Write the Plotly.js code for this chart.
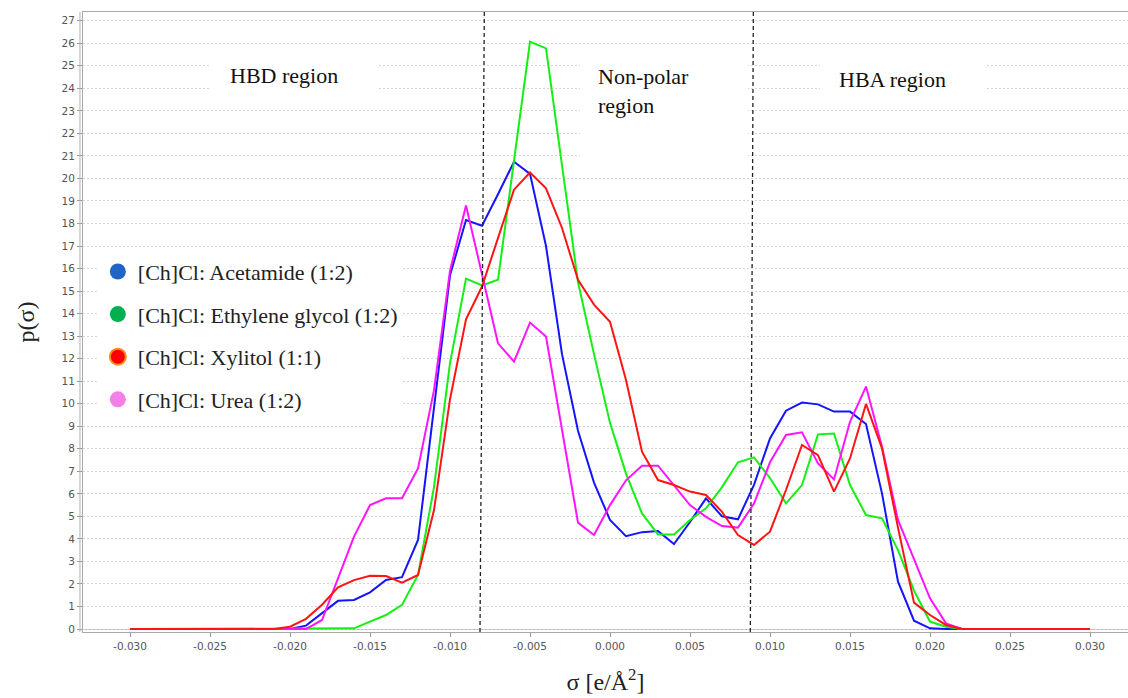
<!DOCTYPE html>
<html>
<head>
<meta charset="utf-8">
<script src="https://cdn.plot.ly/plotly-3.0.1.min.js"></script>
<style>
  html, body { margin: 0; padding: 0; background: #ffffff; }
  #chart { width: 1128px; height: 698px; }
</style>
</head>
<body>
<div id="chart"></div>
<script>
// σ values (e/Å²)
const sigma = [
  -0.030, -0.029, -0.028, -0.027, -0.026, -0.025, -0.024, -0.023, -0.022, -0.021,
  -0.020, -0.019, -0.018, -0.017, -0.016, -0.015, -0.014, -0.013, -0.012, -0.011,
  -0.010, -0.009, -0.008, -0.007, -0.006, -0.005, -0.004, -0.003, -0.002, -0.001,
   0.000,  0.001,  0.002,  0.003,  0.004,  0.005,  0.006,  0.007,  0.008,  0.009,
   0.010,  0.011,  0.012,  0.013,  0.014,  0.015,  0.016,  0.017,  0.018,  0.019,
   0.020,  0.021,  0.022,  0.023,  0.024,  0.025,  0.026,  0.027,  0.028,  0.029,
   0.030
];

const seriesNames = [
  "[Ch]Cl: Acetamide (1:2)",
  "[Ch]Cl: Ethylene glycol (1:2)",
  "[Ch]Cl: Xylitol (1:1)",
  "[Ch]Cl: Urea (1:2)"
];

const acetamide = [
  0, 0, 0, 0, 0, 0, 0, 0, 0, 0,
  0, 0.15, 0.7, 1.25, 1.29, 1.63, 2.18, 2.3, 3.95, 9.8,
  15.7, 18.15, 17.9, 19.3, 20.74, 20.2, 17.0, 12.2, 8.8, 6.5,
  4.84, 4.12, 4.3, 4.35, 3.77, 4.75, 5.8, 5.0, 4.87, 6.4,
  8.46, 9.69, 10.05, 9.97, 9.65, 9.65, 9.1, 6.02, 2.1, 0.37,
  0.03, 0, 0, 0, 0, 0, 0, 0, 0, 0,
  0
];

const ethyleneGlycol = [
  0, 0, 0, 0, 0, 0, 0, 0, 0, 0,
  0, 0, 0, 0, 0.03, 0.33, 0.62, 1.07, 2.4, 6.3,
  11.8, 15.55, 15.25, 15.5, 20.8, 26.07, 25.77, 20.6, 15.4, 12.2,
  9.15, 6.9, 5.13, 4.2, 4.2, 4.84, 5.36, 6.3, 7.4, 7.62,
  6.7, 5.58, 6.39, 8.64, 8.68, 6.39, 5.06, 4.91, 3.5, 1.7,
  0.33, 0.1, 0, 0, 0, 0, 0, 0, 0, 0,
  0
];

const xylitol = [
  0, 0, 0, 0, 0, 0, 0, 0, 0, 0,
  0.1, 0.45, 1.08, 1.85, 2.17, 2.36, 2.35, 2.06, 2.4, 5.28,
  10.2, 13.75, 15.2, 17.4, 19.5, 20.26, 19.56, 17.8, 15.5, 14.4,
  13.64, 11.05, 7.87, 6.61, 6.39, 6.1, 5.95, 5.2, 4.17, 3.73,
  4.32, 6.17, 8.17, 7.72, 6.1, 7.57, 9.99, 8.02, 4.5, 1.17,
  0.62, 0.18, 0, 0, 0, 0, 0, 0, 0, 0,
  0
];

const urea = [
  0, 0, 0, 0, 0, 0, 0, 0, 0, 0,
  0, 0, 0.4, 2.25, 4.1, 5.5, 5.8, 5.8, 7.13, 10.6,
  15.9, 18.8, 15.8, 12.68, 11.87, 13.6, 12.98, 8.9, 4.72, 4.17,
  5.5, 6.6, 7.25, 7.25, 6.4, 5.5, 4.98, 4.57, 4.5, 5.57,
  7.4, 8.61, 8.73, 7.35, 6.64, 9.2, 10.76, 8.09, 4.84, 3.06,
  1.36, 0.25, 0, 0, 0, 0, 0, 0, 0, 0,
  0
];

const xTickVals = [-0.030, -0.025, -0.020, -0.015, -0.010, -0.005, 0.000, 0.005, 0.010, 0.015, 0.020, 0.025, 0.030];
const xTickText = ["-0.030", "-0.025", "-0.020", "-0.015", "-0.010", "-0.005", "0.000", "0.005", "0.010", "0.015", "0.020", "0.025", "0.030"];
const yTickVals = [0,1,2,3,4,5,6,7,8,9,10,11,12,13,14,15,16,17,18,19,20,21,22,23,24,25,26,27];

const regionLabels = ["HBD region", "Non-polar<br>region", "HBA region"];
const regionBoundaries = [-0.008, 0.0088];

const lineColors = ["#1414ff", "#14f014", "#ff1414", "#ff14ff"];
const legendColors = ["#1f64c8", "#00b050", "#ff0000", "#f47fe6"];
const seriesData = [acetamide, ethyleneGlycol, xylitol, urea];
const drawOrder = [0, 1, 3, 2];

const serif = "Liberation Serif, Times New Roman, serif";

const traces = [];
drawOrder.forEach(function (i) {
  traces.push({
    type: "scatter",
    mode: "lines",
    x: sigma,
    y: seriesData[i],
    name: seriesNames[i],
    line: { color: lineColors[i], width: 2 },
    showlegend: false,
    hoverinfo: "skip"
  });
});
// legend entries (circle symbols as in the original)
[0, 1, 2, 3].forEach(function (i) {
  traces.push({
    type: "scatter",
    mode: "markers",
    x: [null],
    y: [null],
    name: seriesNames[i],
    legendgroup: "g" + i,
    marker: {
      color: legendColors[i],
      size: 16,
      symbol: "circle",
      line: { color: i === 2 ? "#ff8a1e" : legendColors[i], width: i === 2 ? 2 : 0 }
    },
    showlegend: true
  });
});

const layout = {
  width: 1128,
  height: 698,
  margin: { l: 83, r: 0, t: 12, b: 66 },
  paper_bgcolor: "#ffffff",
  plot_bgcolor: "#ffffff",
  showlegend: true,
  legend: {
    x: 0.0142,
    y: 0.615,
    xanchor: "left",
    yanchor: "top",
    bgcolor: "#ffffff",
    borderwidth: 0,
    font: { family: serif, size: 22, color: "#222222" },
    tracegroupgap: 11,
    traceorder: "grouped"
  },
  xaxis: {
    range: [-0.032938, 0.032375],
    tickvals: xTickVals,
    ticktext: xTickText,
    ticks: "outside",
    ticklen: 4,
    tickcolor: "#999999",
    tickfont: { family: "DejaVu Sans, sans-serif", size: 10.5, color: "#555555" },
    showgrid: false,
    zeroline: false,
    showline: true,
    linecolor: "#a8a8a8",
    linewidth: 1,
    mirror: true,
    title: {
      text: "σ [e/Å<sup>2</sup>]",
      font: { family: serif, size: 24, color: "#222222" },
      standoff: 22
    }
  },
  yaxis: {
    range: [-0.133, 27.386],
    tickvals: yTickVals,
    ticks: "outside",
    ticklen: 5,
    tickcolor: "#999999",
    tickfont: { family: "DejaVu Sans, sans-serif", size: 10.5, color: "#555555" },
    showgrid: true,
    gridcolor: "#d6d6d6",
    griddash: "2px,2px",
    gridwidth: 1,
    zeroline: false,
    showline: true,
    linecolor: "#a8a8a8",
    linewidth: 1,
    mirror: true,
    title: {
      text: "p(σ)",
      font: { family: serif, size: 24, color: "#222222" },
      standoff: 20
    }
  },
  shapes: [
    // white label boxes hiding the gridlines
    { type: "rect", xref: "x", yref: "y", x0: -0.025, x1: -0.01456, y0: 23.55, y1: 25.55, fillcolor: "#ffffff", line: { width: 0 }, layer: "above" },
    { type: "rect", xref: "x", yref: "y", x0: -0.001875, x1: 0.00862, y0: 20.5, y1: 25.55, fillcolor: "#ffffff", line: { width: 0 }, layer: "above" },
    { type: "rect", xref: "x", yref: "y", x0: 0.013125, x1: 0.0235, y0: 23.55, y1: 25.55, fillcolor: "#ffffff", line: { width: 0 }, layer: "above" },
    // region boundaries
    { type: "line", xref: "x", yref: "paper", x0: regionBoundaries[0] - 0.000125, x1: regionBoundaries[0] + 0.000145, y0: 0, y1: 1, line: { color: "#222222", width: 1.3, dash: "4px,3px" }, layer: "above" },
    { type: "line", xref: "x", yref: "paper", x0: regionBoundaries[1] - 0.00003, x1: regionBoundaries[1] + 0.00016, y0: 0, y1: 1, line: { color: "#222222", width: 1.3, dash: "4px,3px" }, layer: "above" },
    // double axis lines
    { type: "line", xref: "paper", yref: "paper", x0: -0.0029, x1: -0.0029, y0: 0, y1: 1, line: { color: "#b0b0b0", width: 1 }, layer: "above" },
    { type: "line", xref: "paper", yref: "paper", x0: 0, x1: 1, y0: 0.004, y1: 0.004, line: { color: "#b8b8b8", width: 1 }, layer: "below" }
  ],
  annotations: [
    { xref: "x", yref: "y", x: -0.02038, y: 24.55, text: regionLabels[0], showarrow: false, xanchor: "center", yanchor: "middle", font: { family: serif, size: 22, color: "#111111" } },
    { xref: "x", yref: "y", x: -0.00089, y: 23.88, text: regionLabels[1], showarrow: false, xanchor: "left", yanchor: "middle", align: "left", font: { family: serif, size: 22, color: "#111111" } },
    { xref: "x", yref: "y", x: 0.017656, y: 24.37, text: regionLabels[2], showarrow: false, xanchor: "center", yanchor: "middle", font: { family: serif, size: 22, color: "#111111" } }
  ]
};

Plotly.newPlot("chart", traces, layout, { displayModeBar: false, staticPlot: true });
</script>
</body>
</html>
